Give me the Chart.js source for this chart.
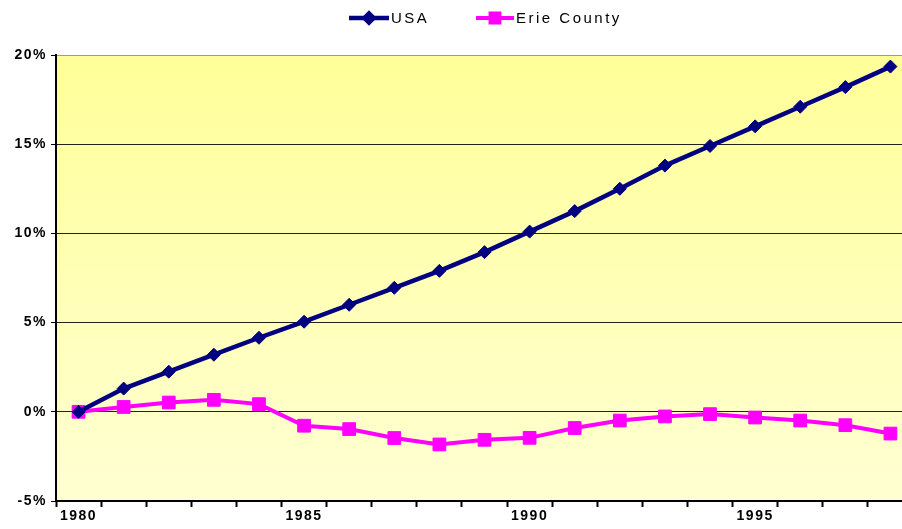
<!DOCTYPE html>
<html>
<head>
<meta charset="utf-8">
<script src="https://cdn.jsdelivr.net/npm/chart.js@4.4.0/dist/chart.umd.min.js"></script>
<style>
    html, body { margin: 0; padding: 0; background: #fff; overflow: hidden; }
    #chart { display: block; }
</style>
</head>
<body>
<canvas id="chart" width="923" height="529"></canvas>
<script>
// years on the x axis
const years = ['1980', '1981', '1982', '1983', '1984', '1985', '1986', '1987', '1988', '1989',
               '1990', '1991', '1992', '1993', '1994', '1995', '1996', '1997', '1998'];

// cumulative change since 1980, in %
const usaValues = [0, 1.3, 2.25, 3.2, 4.15, 5.05, 6.0, 6.95, 7.9, 8.95,
                   10.1, 11.25, 12.5, 13.8, 14.9, 16.0, 17.1, 18.2, 19.35];
const erieValues = [0, 0.27, 0.52, 0.67, 0.43, -0.78, -0.97, -1.47, -1.83, -1.57,
                    -1.46, -0.91, -0.49, -0.26, -0.13, -0.32, -0.49, -0.75, -1.22];

const yMin = -5;
const yMax = 20;
const yStep = 5;

const fontName = '"Liberation Sans", Arial, sans-serif';

// yellow gradient behind the plot area
const plotBackground = {
    id: 'plotBackground',
    beforeDraw(chart) {
        const { ctx, chartArea: a } = chart;
        const g = ctx.createLinearGradient(0, a.top, 0, a.bottom);
        g.addColorStop(0, '#ffff99');
        g.addColorStop(1, '#ffffd2');
        ctx.save();
        ctx.fillStyle = g;
        ctx.fillRect(a.left, a.top, a.right - a.left, a.bottom - a.top);
        ctx.restore();
        ctx.letterSpacing = '1.5px';
    }
};

// legend drawn as line + marker, like the original
const lineLegend = {
    id: 'lineLegend',
    afterDraw(chart) {
        const ctx = chart.ctx;
        const y = 18;
        const items = [
            { ds: chart.data.datasets[0], x0: 349, x1: 389, tx: 391 },
            { ds: chart.data.datasets[1], x0: 476, x1: 514, tx: 516 }
        ];
        ctx.save();
        items.forEach(it => {
            ctx.strokeStyle = it.ds.borderColor;
            ctx.lineWidth = it.ds.borderWidth;
            ctx.beginPath();
            ctx.moveTo(it.x0, y);
            ctx.lineTo(it.x1, y);
            ctx.stroke();
            Chart.helpers.drawPoint(ctx, {
                pointStyle: it.ds.pointStyle,
                radius: it.ds.pointRadius * 0.7,
                borderWidth: 1
            }, (it.x0 + it.x1) / 2, y);
            ctx.fillStyle = it.ds.pointBackgroundColor;
            ctx.fill();
            ctx.letterSpacing = '2.5px';
            ctx.fillStyle = '#000';
            ctx.font = '15px ' + fontName;
            ctx.textBaseline = 'middle';
            ctx.fillText(it.ds.label, it.tx, y + 1);
        });
        ctx.restore();
    }
};

new Chart(document.getElementById('chart'), {
    type: 'line',
    data: {
        labels: years,
        datasets: [
            {
                label: 'USA',
                data: usaValues,
                borderColor: '#000080',
                backgroundColor: '#000080',
                pointBackgroundColor: '#000080',
                pointBorderColor: '#000080',
                borderWidth: 4.5,
                pointStyle: 'rectRot',
                pointRadius: 6.5,
                pointBorderWidth: 1,
                tension: 0
            },
            {
                label: 'Erie County',
                data: erieValues,
                borderColor: '#ff00ff',
                backgroundColor: '#ff00ff',
                pointBackgroundColor: '#ff00ff',
                pointBorderColor: '#ff00ff',
                borderWidth: 4,
                pointStyle: 'rect',
                pointRadius: 9,
                pointBorderWidth: 1,
                tension: 0
            }
        ]
    },
    options: {
        responsive: false,
        animation: false,
        layout: { padding: { top: 55, right: 3, left: 0, bottom: 0 } },
        plugins: {
            legend: { display: false },
            tooltip: { enabled: false }
        },
        scales: {
            x: {
                type: 'category',
                offset: true,
                grid: {
                    offset: true,
                    drawOnChartArea: false,
                    tickLength: 6,
                    tickColor: '#000',
                    tickWidth: 2
                },
                border: { color: '#000', width: 2 },
                ticks: {
                    autoSkip: false,
                    maxRotation: 0,
                    padding: 1,
                    color: '#000',
                    font: { family: fontName, size: 14, weight: 'bold' },
                    callback: (v, i) => (Number(years[i]) % 5 === 0 ? years[i] : '')
                },
                afterFit: s => { s.height = 28; }
            },
            y: {
                min: yMin,
                max: yMax,
                grid: {
                    color: c => (c.tick && c.tick.value === yMax ? '#999' : '#222'),
                    lineWidth: 1,
                    tickLength: 5,
                    tickColor: '#000'
                },
                border: { color: '#000', width: 2 },
                ticks: {
                    stepSize: yStep,
                    padding: 4,
                    color: '#000',
                    font: { family: fontName, size: 14, weight: 'bold' },
                    callback: v => v + '%'
                },
                afterFit: s => { s.width = 56; }
            }
        }
    },
    plugins: [plotBackground, lineLegend]
});
</script>
</body>
</html>
